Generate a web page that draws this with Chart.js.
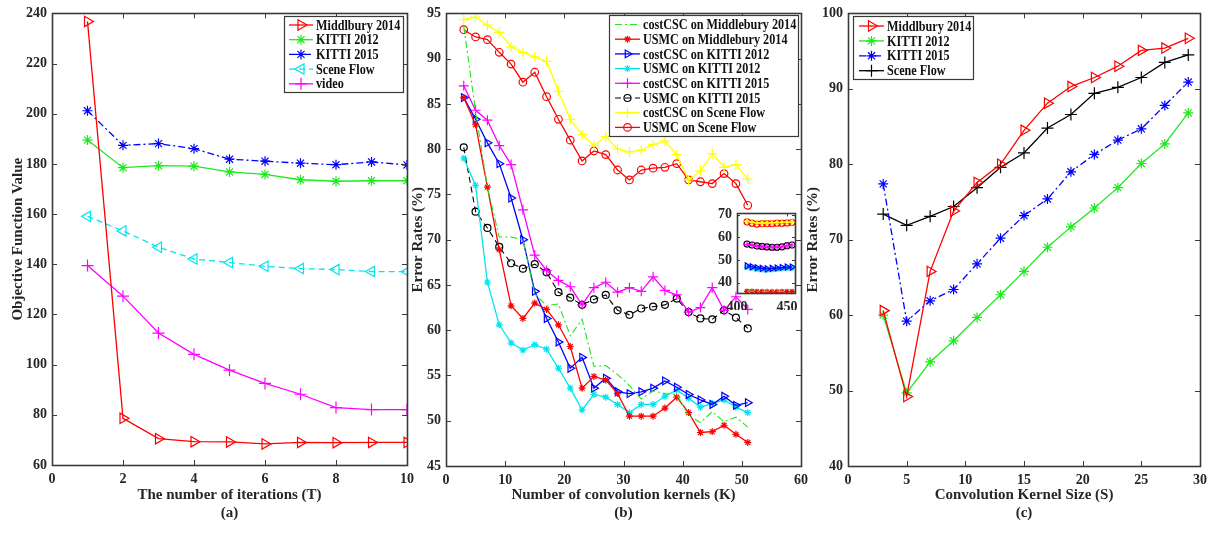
<!DOCTYPE html>
<html>
<head>
<meta charset="utf-8">
<script src="https://cdn.jsdelivr.net/npm/chart.js@4.4.0/dist/chart.umd.min.js"></script>
<style>
  body { margin: 0; background: #fff; }
  #wrap { position: relative; width: 1213px; height: 545px; overflow: hidden; }
  canvas { position: absolute; }
</style>
</head>
<body>
<div id="wrap">
  <canvas id="chartA" width="420" height="545" style="left:0px;top:0px"></canvas>
  <canvas id="chartB" width="410" height="545" style="left:405px;top:0px"></canvas>
  <canvas id="chartC" width="413" height="545" style="left:800px;top:0px"></canvas>
  <canvas id="chartInset" width="100" height="110" style="left:710px;top:200px"></canvas>
</div>
<script>
// ---- (a) objective value vs iterations
const iterations = [1, 2, 3, 4, 5, 6, 7, 8, 9, 10];
const aMiddlbury = [236.8, 78.6, 70.5, 69.3, 69.2, 68.4, 69.0, 68.9, 69.0, 69.0];
const aKitti2012 = [189.5, 178.5, 179.3, 179.1, 176.8, 175.8, 173.7, 173.1, 173.3, 173.3];
const aKitti2015 = [201.2, 187.4, 188.1, 186.1, 181.9, 181.1, 180.3, 179.7, 180.8, 179.6];
const aSceneFlow = [159.1, 153.3, 146.8, 142.1, 140.7, 139.2, 138.3, 137.9, 137.1, 137.1];
const aVideo = [139.5, 127.3, 112.6, 104.1, 97.8, 92.5, 88.2, 82.9, 82.1, 82.1];
const aXTicks = [0, 2, 4, 6, 8, 10];
const aYTicks = [60, 80, 100, 120, 140, 160, 180, 200, 220, 240];

// ---- (b) error rate vs number of kernels
const kernels = [3, 5, 7, 9, 11, 13, 15, 17, 19, 21, 23, 25, 27, 29, 31, 33, 35, 37, 39, 41, 43, 45, 47, 49, 51];
const costMid = [93.6, 84.2, 75.8, 70.3, 70.3, 70.0, 64.0, 62.7, 62.9, 59.4, 61.2, 56.0, 56.1, 55.1, 53.9, 52.4, 53.3, 53.0, 52.9, 50.6, 49.8, 51.0, 49.9, 50.4, 49.3];
const usmcMid = [85.7, 82.7, 75.8, 68.9, 62.7, 61.3, 63.0, 62.3, 60.6, 58.2, 53.6, 54.9, 54.5, 53.0, 50.5, 50.5, 50.5, 51.4, 52.6, 50.9, 48.7, 48.8, 49.5, 48.5, 47.6];
const costK12 = [85.7, 83.3, 80.7, 78.4, 74.6, 70.0, 64.3, 61.3, 58.7, 55.8, 57.0, 53.6, 54.7, 53.2, 53.0, 53.2, 53.6, 54.4, 53.7, 52.9, 52.3, 51.8, 52.7, 51.7, 52.0];
const usmcK12 = [79.0, 76.0, 65.3, 60.6, 58.6, 57.8, 58.4, 57.9, 55.8, 53.6, 51.2, 52.9, 52.6, 51.8, 50.9, 51.8, 51.8, 52.7, 53.4, 52.5, 51.5, 51.9, 52.3, 51.5, 50.9];
const costK15 = [87.0, 84.3, 83.2, 80.4, 78.3, 73.3, 68.3, 66.6, 65.5, 64.8, 62.8, 64.7, 65.3, 64.2, 64.7, 64.3, 65.9, 64.4, 63.9, 62.0, 62.5, 64.7, 62.2, 63.7, 62.3];
const usmcK15 = [80.2, 73.1, 71.3, 69.2, 67.4, 66.8, 67.3, 66.4, 64.2, 63.6, 62.8, 63.4, 63.9, 62.2, 61.7, 62.4, 62.6, 62.8, 63.5, 62.0, 61.3, 61.2, 62.2, 61.4, 60.2];
const costSF = [94.3, 94.6, 93.7, 92.9, 91.3, 90.7, 90.2, 89.7, 86.4, 83.3, 81.6, 80.4, 81.4, 80.0, 79.7, 79.9, 80.5, 80.9, 79.4, 76.6, 77.6, 79.5, 78.0, 78.3, 76.7];
const usmcSF = [93.2, 92.4, 92.1, 90.7, 89.4, 87.4, 88.5, 85.8, 83.3, 81.0, 78.7, 79.8, 79.4, 77.7, 76.6, 77.7, 77.9, 78.0, 78.4, 76.6, 76.4, 76.2, 77.3, 76.2, 73.8];
const bXTicks = [0, 10, 20, 30, 40, 50, 60];
const bYTicks = [45, 50, 55, 60, 65, 70, 75, 80, 85, 90, 95];

// inset of (b): large numbers of kernels
const insetK = [410, 415, 420, 425, 430, 435, 440, 445, 450, 455];
const inCostSF = [67.0, 66.6, 66.3, 66.2, 66.3, 66.3, 66.4, 66.5, 66.6, 66.7];
const inUsmcSF = [66.8, 66.2, 65.8, 66.0, 66.0, 66.0, 66.2, 66.2, 66.3, 66.5];
const inCostK15 = [56.8, 56.5, 56.0, 55.8, 55.6, 55.5, 55.6, 55.9, 56.3, 56.6];
const inUsmcK15 = [57.0, 56.6, 56.2, 56.0, 55.8, 55.6, 55.6, 55.8, 56.3, 56.6];
const inCostK12 = [47.4, 47.0, 46.6, 46.3, 46.1, 46.3, 46.5, 46.7, 46.9, 46.9];
const inUsmcK12 = [46.8, 46.5, 46.0, 45.8, 45.6, 45.8, 46.0, 46.3, 46.5, 46.5];
const inCostMid = [36.3, 36.3, 36.2, 36.2, 36.2, 36.2, 36.2, 36.2, 36.3, 36.3];
const inUsmcMid = [36.2, 36.2, 36.1, 36.1, 36.0, 36.0, 36.0, 36.1, 36.1, 36.1];
const inXTicks = [400, 450];
const inYTicks = [40, 50, 60, 70];

// ---- (c) error rate vs kernel size
const kernelSize = [3, 5, 7, 9, 11, 13, 15, 17, 19, 21, 23, 25, 27, 29];
const cMiddlbury = [60.6, 49.2, 65.8, 73.8, 77.6, 80.0, 84.5, 88.1, 90.3, 91.5, 93.0, 95.1, 95.4, 96.7];
const cKitti2012 = [60.0, 49.7, 53.8, 56.6, 59.7, 62.7, 65.8, 69.0, 71.7, 74.2, 76.9, 80.1, 82.7, 86.8];
const cKitti2015 = [77.4, 59.2, 61.9, 63.4, 66.8, 70.2, 73.2, 75.4, 79.0, 81.3, 83.2, 84.7, 87.8, 90.9];
const cSceneFlow = [73.4, 71.9, 73.1, 74.4, 76.9, 79.6, 81.5, 84.8, 86.6, 89.4, 90.2, 91.5, 93.5, 94.5];
const cXTicks = [0, 5, 10, 15, 20, 25, 30];
const cYTicks = [40, 50, 60, 70, 80, 90, 100];

const FONT = 'Liberation Serif, Times New Roman, serif';
const INK = '#262626';
const DASHDOT = [7, 3, 2, 3];
const DASH = [6, 4];

function pts(xs, ys) {
  return xs.map((x, i) => ({ x: x, y: ys[i] }));
}

// one MATLAB-looking line series
function series(label, xs, ys, color, marker, extra) {
  const d = {
    label: label,
    data: pts(xs, ys),
    borderColor: color,
    backgroundColor: color,
    borderWidth: 1.3,
    pointStyle: marker ? marker.style : false,
    pointRadius: marker ? marker.r : 0,
    pointRotation: marker ? (marker.rot || 0) : 0,
    pointBorderColor: color,
    pointBackgroundColor: marker && marker.open ? 'rgba(0,0,0,0)' : color,
    pointBorderWidth: 1.2,
    fill: false,
    tension: 0
  };
  return Object.assign(d, extra || {});
}

// own marker drawing for the legend, in case helpers are not exposed
function drawMarker(ctx, style, r, rot, x, y) {
  if (Chart.helpers && Chart.helpers.drawPoint) {
    Chart.helpers.drawPoint(ctx, { pointStyle: style, radius: r, rotation: rot, borderWidth: 1.2 }, x, y);
    return;
  }
  ctx.beginPath();
  ctx.arc(x, y, r, 0, Math.PI * 2);
  ctx.fill();
  ctx.stroke();
}

// box, inward ticks, legend and caption
const matlabAxes = {
  id: 'matlabAxes',
  beforeDraw(chart, args, opts) {
    if (opts.whiteArea) {
      const a = chart.chartArea;
      const ctx = chart.ctx;
      ctx.save();
      ctx.fillStyle = '#fff';
      ctx.fillRect(a.left, a.top, a.right - a.left, a.bottom - a.top);
      ctx.restore();
    }
  },
  afterDraw(chart, args, opts) {
    const ctx = chart.ctx;
    const a = chart.chartArea;
    const tl = opts.tick || 5;
    ctx.save();
    ctx.strokeStyle = '#3a3a3a';
    ctx.lineWidth = 1;
    ctx.beginPath();
    chart.scales.x.ticks.forEach(t => {
      const px = Math.round(chart.scales.x.getPixelForValue(t.value)) + 0.5;
      ctx.moveTo(px, a.bottom); ctx.lineTo(px, a.bottom - tl);
      ctx.moveTo(px, a.top); ctx.lineTo(px, a.top + tl);
    });
    chart.scales.y.ticks.forEach(t => {
      const py = Math.round(chart.scales.y.getPixelForValue(t.value)) + 0.5;
      ctx.moveTo(a.left, py); ctx.lineTo(a.left + tl, py);
      ctx.moveTo(a.right, py); ctx.lineTo(a.right - tl, py);
    });
    ctx.stroke();
    ctx.lineWidth = 1.6;
    ctx.strokeRect(Math.round(a.left) + 0.5, Math.round(a.top) + 0.5, Math.round(a.right - a.left), Math.round(a.bottom - a.top));

    const lg = opts.legend;
    if (lg) {
      ctx.fillStyle = '#fff';
      ctx.fillRect(lg.x, lg.y, lg.w, lg.h);
      ctx.lineWidth = 1.2;
      ctx.strokeStyle = '#3a3a3a';
      ctx.strokeRect(lg.x + 0.5, lg.y + 0.5, lg.w, lg.h);
      chart.data.datasets.forEach((d, i) => {
        const y = lg.y + lg.first + i * lg.row;
        ctx.strokeStyle = d.borderColor;
        ctx.lineWidth = d.borderWidth;
        ctx.setLineDash(d.borderDash || []);
        ctx.beginPath();
        ctx.moveTo(lg.x + lg.l0, y);
        ctx.lineTo(lg.x + lg.l1, y);
        ctx.stroke();
        ctx.setLineDash([]);
        if (d.pointStyle) {
          ctx.fillStyle = d.pointBackgroundColor;
          ctx.strokeStyle = d.pointBorderColor;
          ctx.lineWidth = d.pointBorderWidth;
          drawMarker(ctx, d.pointStyle, d.pointRadius, d.pointRotation, lg.x + (lg.l0 + lg.l1) / 2, y);
        }
        // the source text is a bit narrower than Times, squeeze it
        ctx.save();
        ctx.translate(lg.x + lg.tx, y + 1);
        ctx.scale(0.87, 1);
        ctx.font = 'bold 14px ' + FONT;
        ctx.textBaseline = 'middle';
        ctx.textAlign = 'left';
        ctx.fillStyle = '#111';
        ctx.fillText(d.label, 0, 0);
        ctx.restore();
      });
    }
    if (opts.caption) {
      ctx.font = 'bold 15px ' + FONT;
      ctx.fillStyle = INK;
      ctx.textAlign = 'center';
      ctx.textBaseline = 'middle';
      ctx.fillText(opts.caption, (a.left + a.right) / 2, opts.captionY);
    }
    ctx.restore();
  }
};

function axis(min, max, ticks, fixSize, title, titlePad, horizontal) {
  const sc = {
    type: 'linear',
    min: min,
    max: max,
    grid: { display: false, drawTicks: false },
    border: { display: false },
    ticks: {
      color: INK,
      font: { family: FONT, size: 14, weight: 'bold' },
      padding: horizontal ? 6 : 5,
      maxRotation: 0,
      autoSkip: false
    },
    afterBuildTicks: s => { s.ticks = ticks.map(v => ({ value: v })); },
    afterFit: s => { if (horizontal) s.height = fixSize; else s.width = fixSize; }
  };
  if (title) {
    sc.title = {
      display: true,
      text: title,
      color: INK,
      font: { family: FONT, size: 15, weight: 'bold' },
      padding: titlePad
    };
  }
  return sc;
}

function makeChart(id, datasets, scales, padding, plug) {
  return new Chart(document.getElementById(id), {
    type: 'line',
    data: { datasets: datasets },
    options: {
      responsive: false,
      animation: false,
      devicePixelRatio: 1,
      layout: { padding: padding },
      scales: scales,
      plugins: { legend: { display: false }, tooltip: { enabled: false }, matlabAxes: plug }
    },
    plugins: [matlabAxes]
  });
}

const RED = '#ff0000', GREEN = '#1ee81e', BLUE = '#0000ff', CYAN = '#00e5ee', MAG = '#ff00ff', YEL = '#ffff00', BLK = '#000000';

// (a)
makeChart('chartA', [
  series('Middlbury 2014', iterations, aMiddlbury, RED, { style: 'triangle', r: 6, rot: 90, open: true }),
  series('KITTI 2012', iterations, aKitti2012, GREEN, { style: 'star', r: 5 }),
  series('KITTI 2015', iterations, aKitti2015, BLUE, { style: 'star', r: 5 }, { borderDash: DASHDOT }),
  series('Scene Flow', iterations, aSceneFlow, CYAN, { style: 'triangle', r: 6, rot: -90, open: true }, { borderDash: DASH }),
  series('video', iterations, aVideo, MAG, { style: 'cross', r: 6 })
], {
  x: axis(0, 10, aXTicks, 40, 'The number of iterations (T)', { top: 2, bottom: 1 }, true),
  y: axis(60, 240, aYTicks, 52, 'Objective Function Value', { top: 9, bottom: 0 }, false)
}, { left: 0, top: 12, right: 12, bottom: 40 }, {
  caption: '(a)', captionY: 513,
  legend: { x: 284, y: 16, w: 119, h: 76, first: 9, row: 14.7, l0: 5, l1: 29, tx: 32 }
});

// (b)
makeChart('chartB', [
  series('costCSC on Middlebury 2014', kernels, costMid, GREEN, null, { borderDash: DASHDOT, borderWidth: 1.1 }),
  series('USMC on Middlebury 2014', kernels, usmcMid, RED, { style: 'star', r: 3.5 }),
  series('costCSC on KITTI 2012', kernels, costK12, BLUE, { style: 'triangle', r: 4.5, rot: 90, open: true }),
  series('USMC on KITTI 2012', kernels, usmcK12, CYAN, { style: 'star', r: 3.5 }),
  series('costCSC on KITTI 2015', kernels, costK15, MAG, { style: 'cross', r: 5 }),
  series('USMC on KITTI 2015', kernels, usmcK15, BLK, { style: 'circle', r: 3.5, open: true }, { borderDash: DASH, borderWidth: 1.1 }),
  series('costCSC on Scene Flow', kernels, costSF, YEL, { style: 'cross', r: 5 }),
  series('USMC on Scene Flow', kernels, usmcSF, RED, { style: 'circle', r: 3.8, open: true })
], {
  x: axis(0, 60, bXTicks, 39, 'Number of convolution kernels (K)', { top: 2, bottom: 1 }, true),
  y: axis(45, 95, bYTicks, 41, 'Error Rates (%)', { top: 4, bottom: 0 }, false)
}, { left: 0, top: 12, right: 14, bottom: 40 }, {
  caption: '(b)', captionY: 513,
  legend: { x: 204, y: 15, w: 189, h: 121, first: 9.5, row: 14.7, l0: 6, l1: 31, tx: 34 }
});

// inset of (b)
makeChart('chartInset', [
  series('costCSC on Scene Flow', insetK, inCostSF, YEL, { style: 'cross', r: 3.5 }),
  series('USMC on Scene Flow', insetK, inUsmcSF, RED, { style: 'circle', r: 3, open: true }),
  series('costCSC on KITTI 2015', insetK, inCostK15, MAG, { style: 'cross', r: 3.5 }),
  series('USMC on KITTI 2015', insetK, inUsmcK15, BLK, { style: 'circle', r: 3, open: true }, { borderDash: DASH }),
  series('costCSC on KITTI 2012', insetK, inCostK12, BLUE, { style: 'triangle', r: 3.5, rot: 90, open: true }),
  series('USMC on KITTI 2012', insetK, inUsmcK12, CYAN, { style: 'star', r: 3 }),
  series('costCSC on Middlebury 2014', insetK, inCostMid, GREEN, null, { borderDash: DASHDOT }),
  series('USMC on Middlebury 2014', insetK, inUsmcMid, RED, { style: 'star', r: 3 })
], {
  x: axis(400, 458, inXTicks, 17, null, null, true),
  y: axis(35.5, 70.5, inYTicks, 27, null, null, false)
}, { left: 0, top: 11, right: 15, bottom: 0 }, { whiteArea: true, tick: 3 });

// (c)
makeChart('chartC', [
  series('Middlbury 2014', kernelSize, cMiddlbury, RED, { style: 'triangle', r: 6, rot: 90, open: true }),
  series('KITTI 2012', kernelSize, cKitti2012, GREEN, { style: 'star', r: 5 }),
  series('KITTI 2015', kernelSize, cKitti2015, BLUE, { style: 'star', r: 5 }, { borderDash: DASHDOT }),
  series('Scene Flow', kernelSize, cSceneFlow, BLK, { style: 'cross', r: 6 })
], {
  x: axis(0, 30, cXTicks, 39, 'Convolution Kernel Size (S)', { top: 2, bottom: 1 }, true),
  y: axis(40, 100, cYTicks, 48, 'Error Rates (%)', { top: 4, bottom: 0 }, false)
}, { left: 0, top: 12, right: 13, bottom: 40 }, {
  caption: '(c)', captionY: 513,
  legend: { x: 53, y: 16, w: 120, h: 63, first: 10, row: 14.9, l0: 6, l1: 31, tx: 34 }
});
</script>
</body>
</html>
